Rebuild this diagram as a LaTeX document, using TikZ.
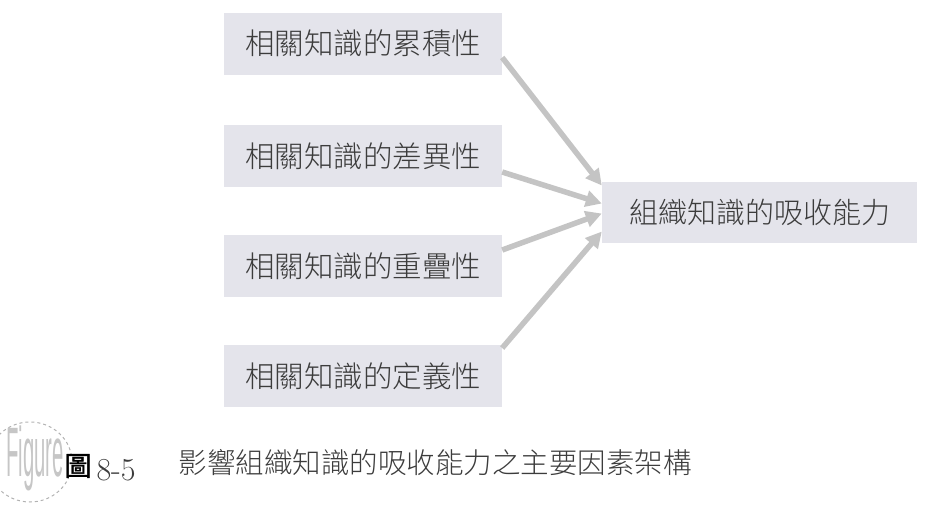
\documentclass[tikz,border=0pt]{standalone}
\usepackage{fontspec}
\setmainfont{Liberation Sans}
\newfontfamily\cjk{Noto Sans CJK TC Light}
\newfontfamily\cjkbold[FakeBold=1.2]{Noto Sans CJK TC}
\usetikzlibrary{arrows.meta}
\definecolor{boxfill}{HTML}{E4E4EB}
\definecolor{inkgray}{HTML}{3C3C3C}
\definecolor{arrowgray}{HTML}{C4C4C4}

\begin{document}
\begin{tikzpicture}[x=1pt, y=1pt,
    factor/.style={fill=boxfill, text=inkgray, inner sep=0pt,
        minimum width=278pt, minimum height=62pt,
        font=\cjk\fontsize{29.5}{32}\selectfont},
    result/.style={factor, minimum width=315pt, minimum height=61pt,
        font=\cjk\fontsize{29}{32}\selectfont},
    feed/.style={arrowgray, line width=5.5pt,
        -{Triangle[length=16pt, width=16pt]}}]
    \useasboundingbox (0,0) rectangle (946,-531);

    % the four factors
    \node[factor] (accum)   at (363,-43.5) {相關知識的累積性};
    \node[factor] (diff)    at (363,-156)  {相關知識的差異性};
    \node[factor] (overlap) at (363,-266)  {相關知識的重疊性};
    \node[factor] (define)  at (363,-376)  {相關知識的定義性};

    % absorptive capacity
    \node[result] (absorb) at (759.5,-212.5) {組織知識的吸收能力};

    \draw[feed] ([yshift=-14pt]accum.east)  -- ([yshift=27pt]absorb.west);
    \draw[feed] ([yshift=-16pt]diff.east)    -- ([yshift=9pt]absorb.west);
    \draw[feed] ([yshift=16pt]overlap.east)  -- ([yshift=-1pt]absorb.west);
    \draw[feed] ([yshift=28pt]define.east)   -- ([yshift=-19pt]absorb.west);

    % caption with the figure badge
    \draw[gray!60, dashed, line width=1pt] (30,-462) ellipse (42 and 40);
    \node[text=gray!45, inner sep=0pt, xscale=0.29,
        font=\fontsize{70}{72}\selectfont] (badge) at (35,-458) {Figure};
    \node[fill=white, inner sep=0pt, text=black,
        font=\cjkbold\fontsize{27}{30}\selectfont] (fig) at (78,-466) {圖};
    \node[text=inkgray, font=\fontsize{32}{34}\selectfont,
        anchor=west] (num) at (93,-470) {\fontspec{Latin Modern Roman}8-5};
    \node[text=inkgray, font=\cjk\fontsize{28.5}{30}\selectfont, anchor=west]
        (title) at (175,-463) {影響組織知識的吸收能力之主要因素架構};
\end{tikzpicture}
\end{document}
